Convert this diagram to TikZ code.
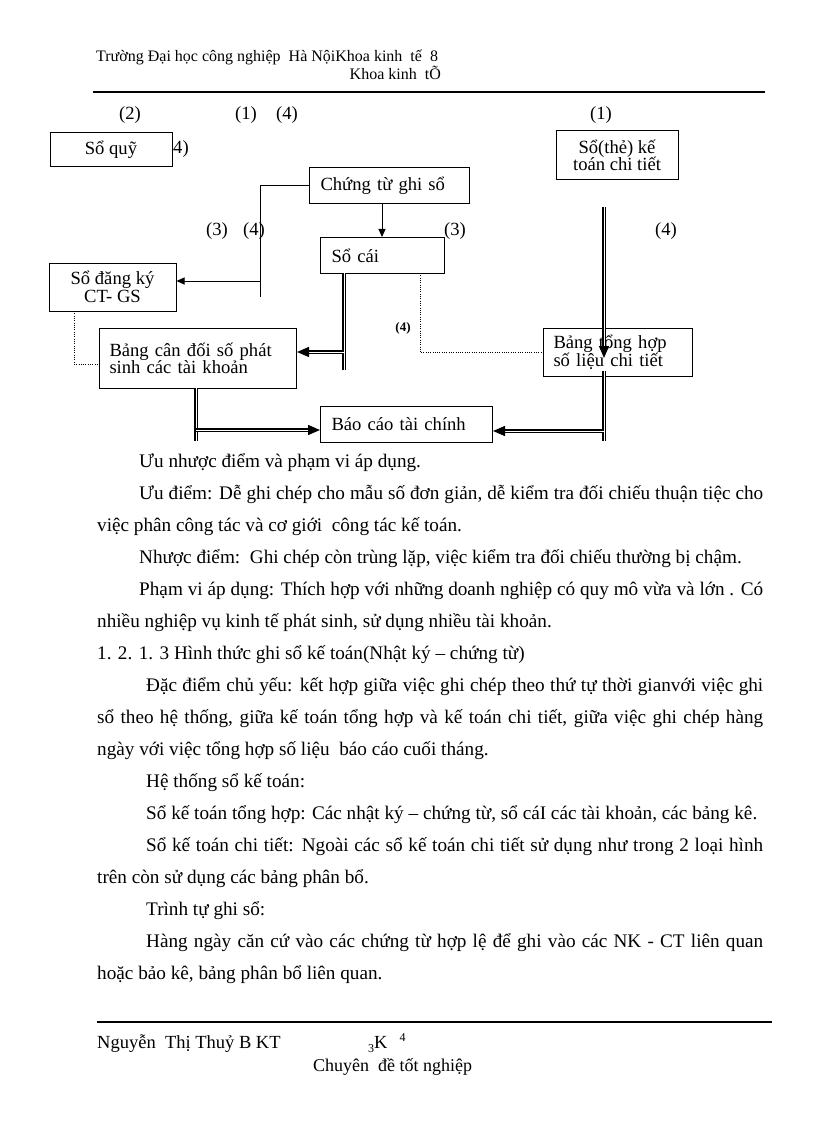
\documentclass[tikz,border=0pt]{standalone}
\usepackage{fontspec}
\setmainfont{Liberation Serif}
\usetikzlibrary{arrows.meta}
\begin{document}
\begin{tikzpicture}[x=1pt,y=-1pt,
  every node/.style={inner sep=0pt, font=\fontsize{18.6}{17.5}\selectfont},
  txt/.style={anchor=base west, font=\fontsize{19.2}{20}\selectfont},
  lbl/.style={anchor=base},
  hdr/.style={anchor=base west, font=\fontsize{16}{18}\selectfont},
  box/.style={draw, line width=1pt, inner sep=0pt, align=center},
  lbox/.style={draw, line width=1pt, anchor=north west, inner xsep=11pt, inner ysep=0pt, align=left},
  thinl/.style={line width=1pt},
  arr/.style={line width=1pt, -{Triangle[length=8pt,width=7pt]}},
  dbl/.style={double, double distance=1pt, line width=1.4pt},
  darr/.style={dbl, -{Triangle[length=12pt,width=10pt]}},
  dotl/.style={line width=0.9pt, dash pattern=on 1pt off 1.3pt},
  rule/.style={line width=1.4pt},
]
\path[use as bounding box, fill=white] (0,0) rectangle (816,1123);

% header
\node[hdr] (h1) at (96,62) {Trường Đại học công nghiệp\ \ Hà NộiKhoa kinh\ \ tế\ \ 8};
\node[hdr, anchor=base east] (h2) at (441,80) {Khoa kinh\ \ tÕ};
\coordinate (hr1) at (93,92);
\coordinate (hr2) at (765,92);
\draw[rule] (hr1) -- (hr2);

% diagram labels
\node[lbl] (l2) at (130,120) {(2)};
\node[lbl] (l1a) at (246,120) {(1)};
\node[lbl] (l4a) at (287,120) {(4)};
\node[lbl] (l1b) at (601,120) {(1)};
\node[lbl] (l3a) at (217,236) {(3)};
\node[lbl] (l4b) at (254,236) {(4)};
\node[lbl] (l3b) at (455,236) {(3)};
\node[lbl] (l4c) at (666,236) {(4)};
\node[lbl, font=\bfseries\fontsize{13}{14}\selectfont] (l4d) at (403,331) {(4)};

% boxes
\node[box, minimum width=122pt, minimum height=34pt] (sq) at (111,150) {Sổ quỹ};
\node[anchor=base west] (l4e) at (173,154) {4)};
\node[box, minimum width=122pt, minimum height=49pt] (stct) at (617,155.5) {Sổ(thẻ) kế\\toán chi tiết};
\node[lbox, text width=138pt, minimum height=36pt] (ct) at (309,167) {Chứng từ ghi sổ};
\node[lbox, text width=102pt, minimum height=36pt] (sc) at (320,237) {Sổ cái};
\node[box, minimum width=127pt, minimum height=48pt] (sdk) at (112.5,287) {Sổ đăng ký\\CT- GS};
\node[lbox, inner xsep=10pt, text width=177pt, minimum height=60pt] (bcd) at (99,328) {Bảng cân đối số phát\\sinh các tài khoản\\[4pt]};
\node[lbox, inner xsep=10pt, text width=129pt, minimum height=48pt] (btt) at (543,328) {Bảng tổng hợp\\số liệu chi tiết};
\node[lbox, text width=150pt, minimum height=36pt] (bc) at (320,406) {Báo cáo tài chính};

% connectors
\coordinate (p1) at (260,297);
\draw[thinl] (ct.west) -| (p1);
\coordinate (p2) at (260,281);
\draw[arr] (p2) -- (p2 -| sdk.east);
\coordinate (p3) at (382,203);
\draw[arr] (p3) -- (p3 |- sc.north);

\coordinate (q1) at (344,273);
\coordinate (q2) at (344,370);
\draw[dbl] (q1) -- (q2);
\coordinate (q3) at (344,352);
\draw[darr] (q3) -- (q3 -| bcd.east);

\coordinate (r1) at (420,273);
\draw[dotl] (r1) |- (btt.west);
\coordinate (r2) at (74,311);
\coordinate (r3) at (74,364);
\draw[dotl] (r2) -- (r3) -- (r3 -| bcd.west);

\coordinate (s1) at (604,207);
\coordinate (s2) at (604,358);
\draw[darr] (s1) -- (s2);
\coordinate (s3) at (604,371);
\coordinate (s4) at (604,441);
\draw[dbl] (s3) -- (s4);
\coordinate (s5) at (604,431);
\draw[darr] (s5) -- (s5 -| bc.east);

\coordinate (u1) at (196,388);
\coordinate (u2) at (196,441);
\draw[dbl] (u1) -- (u2);
\coordinate (u3) at (196,430);
\draw[darr] (u3) -- (u3 -| bc.west);

% body text
\node[txt] (t1) at (139,467) {Ưu nhược điểm và phạm vi áp dụng.};
\node[txt] (t2) at (139,499) {\makebox[624pt][s]{Ưu điểm: Dễ ghi chép cho mẫu số đơn giản, dễ kiểm tra đối chiếu thuận tiệc cho}};
\node[txt] (t3) at (97,531) {việc phân công tác và cơ giới\ \ công tác kế toán.};
\node[txt] (t4) at (139,563) {Nhược điểm:\ \ Ghi chép còn trùng lặp, việc kiểm tra đối chiếu thường bị chậm.};
\node[txt] (t5) at (139,595) {\makebox[624pt][s]{Phạm vi áp dụng: Thích hợp với những doanh nghiệp có quy mô vừa và lớn . Có}};
\node[txt] (t6) at (97,627) {nhiều nghiệp vụ kinh tế phát sinh, sử dụng nhiều tài khoản.};
\node[txt] (t7) at (97,659) {1. 2. 1. 3 Hình thức ghi sổ kế toán(Nhật ký – chứng từ)};
\node[txt] (t8) at (146,691) {\makebox[617pt][s]{Đặc điểm chủ yếu: kết hợp giữa việc ghi chép theo thứ tự thời gianvới việc ghi}};
\node[txt] (t9) at (97,723) {\makebox[666pt][s]{sổ theo hệ thống, giữa kế toán tổng hợp và kế toán chi tiết, giữa việc ghi chép hàng}};
\node[txt] (t10) at (97,755) {ngày với việc tổng hợp số liệu\ \ báo cáo cuối tháng.};
\node[txt] (t11) at (146,787) {Hệ thống sổ kế toán:};
\node[txt] (t12) at (146,819) {Sổ kế toán tổng hợp: Các nhật ký – chứng từ, sổ cáI các tài khoản, các bảng kê.};
\node[txt] (t13) at (146,851) {\makebox[617pt][s]{Sổ kế toán chi tiết: Ngoài các sổ kế toán chi tiết sử dụng như trong 2 loại hình}};
\node[txt] (t14) at (97,883) {trên còn sử dụng các bảng phân bổ.};
\node[txt] (t15) at (146,915) {Trình tự ghi sổ:};
\node[txt] (t16) at (146,947) {\makebox[617pt][s]{Hàng ngày căn cứ vào các chứng từ hợp lệ để ghi vào các NK - CT liên quan}};
\node[txt] (t17) at (97,979) {hoặc bảo kê, bảng phân bổ liên quan.};

% footer
\coordinate (fr1) at (97,1022);
\coordinate (fr2) at (772,1022);
\draw[rule] (fr1) -- (fr2);
\node[txt, font=\fontsize{18.5}{19}\selectfont] (f1) at (97,1048) {Nguyễn\ \ Thị Thuỷ B KT};
\node[txt, font=\fontsize{18.5}{19}\selectfont] (f2) at (368,1048) {\raisebox{-4pt}{\fontsize{12}{12}\selectfont 3}K\hspace{12pt}\raisebox{7pt}{\fontsize{12}{12}\selectfont 4}};
\node[txt, font=\fontsize{18}{19}\selectfont] (f3) at (313,1071) {Chuyên\ \ đề tốt nghiệp};
\end{tikzpicture}
\end{document}
